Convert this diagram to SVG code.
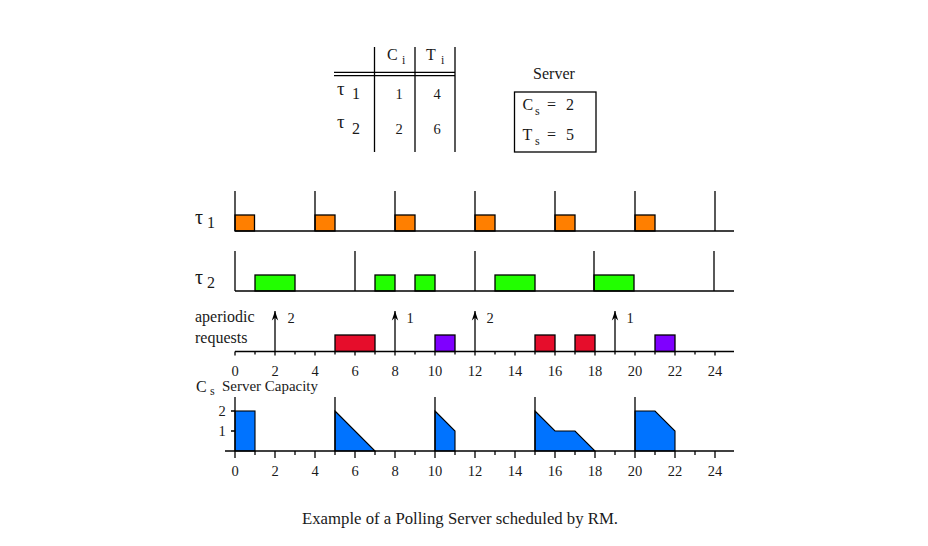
<svg xmlns="http://www.w3.org/2000/svg" width="928" height="546" viewBox="0 0 928 546">
<defs>
<style>
text{font-family:"Liberation Serif","Times New Roman",serif;fill:#1a1a1a}
.t16{font-size:16px}
.tau{font-size:20px}
.ttau{font-size:19px}
.sub{font-size:12px}
.num{font-size:14.5px;text-anchor:middle}
.ln{stroke:#000;stroke-width:1.3;fill:none}
.box{stroke:#000;stroke-width:1.3}
.o{fill:#FF7F00}
.g{fill:#22FF00}
.r{fill:#E60D2B}
.p{fill:#7F00FF}
.b{fill:#0073FF;stroke:#000;stroke-width:1.1}
</style>
<marker id="arr" viewBox="0 0 10 8" refX="10" refY="4" markerWidth="10" markerHeight="8" markerUnits="userSpaceOnUse" orient="auto">
<path d="M0.5,0.8 L10,4 L0.5,7.2 L3.5,4 Z" fill="#000"/>
</marker>
</defs>
<rect width="928" height="546" fill="#fff"/>

<g id="table">
<line class="ln" x1="374.5" y1="47" x2="374.5" y2="152"/>
<line class="ln" x1="415" y1="47" x2="415" y2="152"/>
<line class="ln" x1="455" y1="47" x2="455" y2="152"/>
<line class="ln" x1="334" y1="72.3" x2="455" y2="72.3"/>
<line class="ln" x1="334" y1="75.7" x2="455" y2="75.7"/>
<text class="t16" x="387" y="60">C</text><text class="sub" x="402" y="64">i</text>
<text class="t16" x="426" y="60">T</text><text class="sub" x="441" y="64">i</text>
<text class="ttau" x="337" y="95">τ</text><text class="t16" x="352" y="99">1</text>
<text x="399" y="99" class="num">1</text><text x="437" y="99" class="num">4</text>
<text class="ttau" x="337" y="128">τ</text><text class="t16" x="352" y="134">2</text>
<text x="399" y="134" class="num">2</text><text x="437" y="134" class="num">6</text>
</g>

<g id="server">
<text class="t16" x="554" y="79" text-anchor="middle">Server</text>
<rect x="514.5" y="92" width="81.5" height="60" fill="none" stroke="#000" stroke-width="1.3"/>
<text class="t16" x="522.5" y="110">C</text><text class="sub" x="535" y="115">s</text>
<text class="t16" x="547" y="110">=</text><text class="t16" x="566" y="110">2</text>
<text class="t16" x="522.5" y="140">T</text><text class="sub" x="535" y="145">s</text>
<text class="t16" x="547" y="140">=</text><text class="t16" x="566" y="140">5</text>
</g>

<g id="tau1">
<text class="tau" x="195" y="224">τ</text><text class="t16" x="207" y="228">1</text>
<rect class="o box" x="235" y="215" width="19.5" height="16"/>
<rect class="o box" x="315" y="215" width="20" height="16"/>
<rect class="o box" x="395" y="215" width="20" height="16"/>
<rect class="o box" x="475" y="215" width="20" height="16"/>
<rect class="o box" x="555" y="215" width="20" height="16"/>
<rect class="o box" x="635" y="215" width="20" height="16"/>
<path class="ln" d="M235,191V231M315,191V231M395,191V231M475,191V231M555,191V231M635,191V231M715,191V231"/>
<line class="ln" x1="235" y1="231" x2="734" y2="231"/>
</g>

<g id="tau2">
<text class="tau" x="195" y="284">τ</text><text class="t16" x="207" y="288">2</text>
<rect class="g box" x="255" y="275" width="40" height="16"/>
<rect class="g box" x="375" y="275" width="20" height="16"/>
<rect class="g box" x="415" y="275" width="20" height="16"/>
<rect class="g box" x="495" y="275" width="40" height="16"/>
<rect class="g box" x="594" y="275" width="40" height="16"/>
<path class="ln" d="M235,251V291M355,251V291M475,251V291M594,251V291M714,251V291"/>
<line class="ln" x1="235" y1="291" x2="734" y2="291"/>
</g>

<g id="aperiodic">
<text class="t16" x="195" y="322">aperiodic</text>
<text class="t16" x="195" y="343">requests</text>
<rect class="r box" x="335" y="335" width="40" height="16.5"/>
<rect class="r box" x="535" y="335" width="20" height="16.5"/>
<rect class="r box" x="575" y="335" width="20" height="16.5"/>
<rect class="p box" x="435" y="335" width="20" height="16.5"/>
<rect class="p box" x="655" y="335" width="20" height="16.5"/>
<line class="ln" x1="235" y1="351.5" x2="734" y2="351.5"/>
<path class="ln" d="M235,351.5v4M255,351.5v3M275,351.5v4M295,351.5v3M315,351.5v4M335,351.5v3M355,351.5v4M375,351.5v3M395,351.5v4M415,351.5v3M435,351.5v4M455,351.5v3M475,351.5v4M495,351.5v3M515,351.5v4M535,351.5v3M555,351.5v4M575,351.5v3M595,351.5v4M615,351.5v3M635,351.5v4M655,351.5v3M675,351.5v4M695,351.5v3M715,351.5v4"/>
<g>
<text class="num" x="235" y="376">0</text><text class="num" x="275" y="376">2</text><text class="num" x="315" y="376">4</text><text class="num" x="355" y="376">6</text><text class="num" x="395" y="376">8</text><text class="num" x="435" y="376">10</text><text class="num" x="475" y="376">12</text><text class="num" x="515" y="376">14</text><text class="num" x="555" y="376">16</text><text class="num" x="595" y="376">18</text><text class="num" x="635" y="376">20</text><text class="num" x="675" y="376">22</text><text class="num" x="715" y="376">24</text>
</g>
</g>

<g id="connectors">
<line class="ln" x1="275" y1="351" x2="275" y2="311" marker-end="url(#arr)" stroke-width="1.1"/>
<line class="ln" x1="395" y1="351" x2="395" y2="311" marker-end="url(#arr)" stroke-width="1.1"/>
<line class="ln" x1="475" y1="351" x2="475" y2="311" marker-end="url(#arr)" stroke-width="1.1"/>
<line class="ln" x1="615" y1="351" x2="615" y2="311" marker-end="url(#arr)" stroke-width="1.1"/>
<text class="num" x="291" y="323">2</text>
<text class="num" x="410" y="323">1</text>
<text class="num" x="490" y="323">2</text>
<text class="num" x="630" y="323">1</text>
</g>

<g id="capacity">
<text class="t16" x="196" y="391.5">C</text><text class="sub" x="210" y="395">s</text>
<text x="222" y="390.5" style="font-size:14px" textLength="96" lengthAdjust="spacingAndGlyphs">Server Capacity</text>
<text class="num" x="222" y="416">2</text>
<text class="num" x="222" y="436">1</text>
<path class="ln" d="M231,411H235M231,431H235"/>
<rect class="b" x="235" y="411" width="20" height="40"/>
<polygon class="b" points="335,411 375,451 335,451"/>
<polygon class="b" points="435,411 455,431 455,451 435,451"/>
<polygon class="b" points="535,411 555,431 575,431 595,451 535,451"/>
<polygon class="b" points="635,411 655,411 675,431 675,451 635,451"/>
<path class="ln" d="M235,397V451M335,397V451M435,397V451M535,397V451M635,397V451"/>
<line class="ln" x1="225" y1="451" x2="734" y2="451"/>
<path class="ln" d="M235,451v7M255,451v4M275,451v7M295,451v4M315,451v7M335,451v4M355,451v7M375,451v4M395,451v7M415,451v4M435,451v7M455,451v4M475,451v7M495,451v4M515,451v7M535,451v4M555,451v7M575,451v4M595,451v7M615,451v4M635,451v7M655,451v4M675,451v7M695,451v4M715,451v7"/>
<g>
<text class="num" x="235" y="476">0</text><text class="num" x="275" y="476">2</text><text class="num" x="315" y="476">4</text><text class="num" x="355" y="476">6</text><text class="num" x="395" y="476">8</text><text class="num" x="435" y="476">10</text><text class="num" x="475" y="476">12</text><text class="num" x="515" y="476">14</text><text class="num" x="555" y="476">16</text><text class="num" x="595" y="476">18</text><text class="num" x="635" y="476">20</text><text class="num" x="675" y="476">22</text><text class="num" x="715" y="476">24</text>
</g>
</g>

<g id="caption">
<text x="302" y="524" style="font-size:16px" textLength="316" lengthAdjust="spacingAndGlyphs">Example of a Polling Server scheduled by RM.</text>
</g>
</svg>
